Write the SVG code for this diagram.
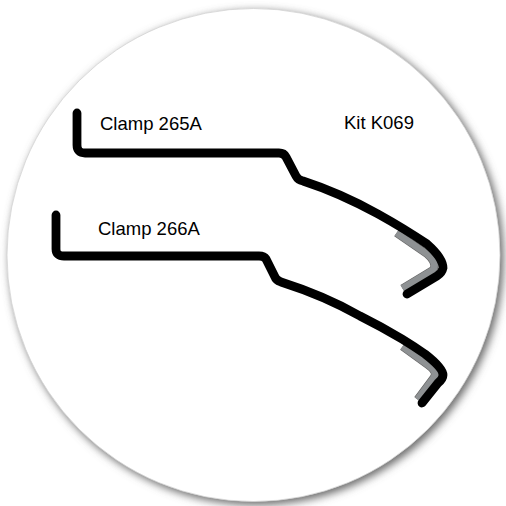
<svg xmlns="http://www.w3.org/2000/svg" width="506" height="506" viewBox="0 0 506 506">
<defs>
<filter id="sh" x="-10%" y="-10%" width="120%" height="120%"><feGaussianBlur stdDeviation="4.5"/></filter>
</defs>
<style>
.clamp{fill:none;stroke:#000;stroke-width:8.8;stroke-linecap:round;stroke-linejoin:round}
.liner{fill:none;stroke:#666;stroke-width:8;stroke-linejoin:round}
.linerf{fill:none;stroke:#8e9193;stroke-width:6.8;stroke-linejoin:round}
text{font-family:"Liberation Sans",Arial,sans-serif;font-size:18.5px;fill:#000}
</style>
<rect width="506" height="506" fill="#fff"/>
<g id="disc">
<circle cx="256.5" cy="258" r="247" fill="#6a6a6a" filter="url(#sh)"/>
<circle cx="253.5" cy="255" r="246.5" fill="#fff" stroke="#d4d4d4" stroke-width="0.8"/>
</g>
<g id="connectors">
<g id="clamp-265A">
<path class="liner" d="M396.5 233L427 254Q437.500 263 433 270L402.500 288.500"/>
<path class="linerf" d="M396.5 233L427 254Q437.500 263 433 270L402.500 288.500"/>
<path class="clamp" d="M77 113V145Q77 153 85 153H279Q284 153 286 157L296 176Q298 180 303 181Q340 193 378 214Q405 229 427 244Q443 258 443 268Q442 273 437 276L407 294"/>
</g>
<g id="clamp-266A">
<path class="liner" d="M402.500 346.500L428 365Q438 372 433.500 378L417.500 399.500"/>
<path class="linerf" d="M402.500 346.500L428 365Q438 372 433.500 378L417.500 399.500"/>
<path class="clamp" d="M56 215V249Q56 256 64 256H259Q264 256 266 259L275 277Q276 280 281 282Q325 296 360 316Q382 327 402 339Q415 347 425 354Q443 368 443 375Q443 379 438 383L422 403"/>
</g>
</g>
<g id="labels">
<text x="100" y="130">Clamp 265A</text>
<text x="98" y="235">Clamp 266A</text>
<text x="344" y="129">Kit K069</text>
</g>
</svg>
